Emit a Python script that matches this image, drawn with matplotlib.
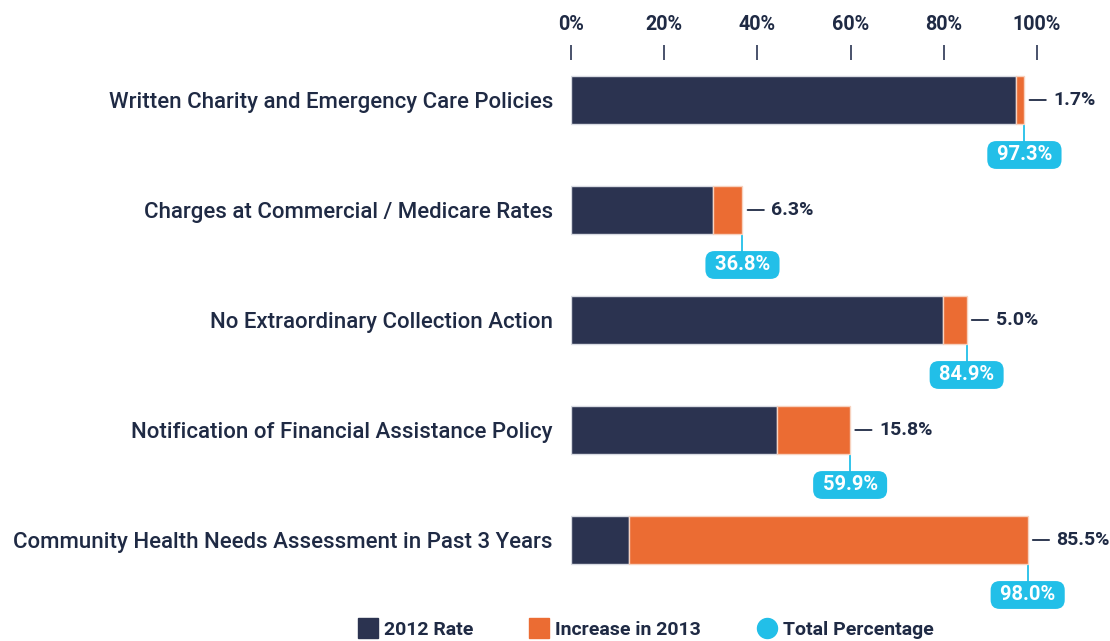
import matplotlib.pyplot as plt
from matplotlib.lines import Line2D

plt.rcParams['font.family'] = ['Roboto', 'DejaVu Sans']

categories = [
    "Written Charity and Emergency Care Policies",
    "Charges at Commercial / Medicare Rates",
    "No Extraordinary Collection Action",
    "Notification of Financial Assistance Policy",
    "Community Health Needs Assessment in Past 3 Years",
]
rate_2012 = [95.6, 30.5, 79.9, 44.1, 12.5]
increase_2013 = [1.7, 6.3, 5.0, 15.8, 85.5]
total_pct = [97.3, 36.8, 84.9, 59.9, 98.0]
ticks = [0, 20, 40, 60, 80, 100]

dark = '#2b3350'
orange = '#eb6c33'
cyan = '#22bfe8'
txt = '#1f2a44'

fig = plt.figure(figsize=(11.1, 6.41), dpi=100)
ax = fig.add_axes([571 / 1110, 1 - 590 / 641, 466 / 1110, 530 / 641])

y = list(range(len(categories)))
h = 0.44
ax.barh(y, rate_2012, height=h, color=dark, edgecolor='#d8dbe2', linewidth=1)
ax.barh(y, increase_2013, left=rate_2012, height=h, color=orange,
        edgecolor='#f7d2bf', linewidth=1)

for i in y:
    end = total_pct[i]
    # increase label with leader line
    ax.annotate('', xy=(end + 0.5, i), xytext=(end + 5.2, i),
                arrowprops=dict(arrowstyle='-', color=txt, lw=1.3),
                annotation_clip=False)
    ax.text(end + 6.2, i, f"{increase_2013[i]:.1f}%", va='center', ha='left',
            fontsize=14, fontweight='bold', color=txt, clip_on=False)
    # total bubble
    ax.plot([end, end], [i + h / 2 + 0.02, i + 0.39], color=cyan, lw=1.3,
            clip_on=False)
    ax.text(end, i + 0.5, f" {end:.1f}% ", va='center', ha='center',
            fontsize=14.5, fontweight='bold', color='white', clip_on=False,
            bbox=dict(boxstyle='round,pad=0.22,rounding_size=0.45', fc=cyan,
                      ec='none'))

ax.set_xlim(0, 100)
ax.set_ylim(4 + 50 / 110, -40 / 110)
ax.set_yticks(y)
ax.set_yticklabels(categories, fontsize=16.0, color=txt, fontweight='medium')
ax.set_xticks(ticks)
ax.set_xticklabels([f"{t}%" for t in ticks], fontsize=14.2, fontweight='bold',
                   color=txt)
ax.xaxis.tick_top()
ax.tick_params(axis='x', direction='out', length=11, width=1.3, color='#3a4460',
               pad=8)
ax.tick_params(axis='y', length=0, pad=13)
for s in ax.spines.values():
    s.set_visible(False)

handles = [
    Line2D([], [], marker='s', linestyle='none', markersize=14.4, color=dark),
    Line2D([], [], marker='s', linestyle='none', markersize=14.4, color=orange),
    Line2D([], [], marker='o', linestyle='none', markersize=14.4, color=cyan),
]
leg = fig.legend(handles, ["2012 Rate", "Increase in 2013", "Total Percentage"],
                 loc='center', bbox_to_anchor=(0.582, 1 - 630 / 641), ncol=3,
                 frameon=False, handlelength=1.0, handletextpad=0.3,
                 columnspacing=2.9, borderpad=0,
                 prop=dict(size=14, weight='bold'))
for t in leg.get_texts():
    t.set_color(txt)

fig.savefig('out.png', dpi=100)
